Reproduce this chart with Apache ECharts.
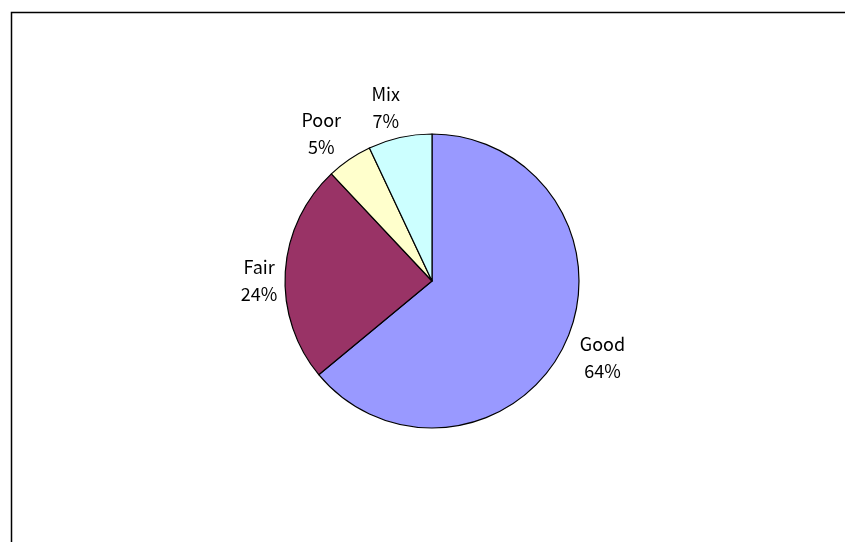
<!DOCTYPE html>
<html>
<head>
<meta charset="utf-8">
<script src="https://cdn.jsdelivr.net/npm/echarts@6/dist/echarts.min.js"></script>
<style>
  html, body { margin: 0; padding: 0; background: #fff; }
  #chart { width: 845px; height: 542px; }
</style>
</head>
<body>
<div id="chart"></div>
<script>
// Condition ratings, share of total (%)
const categories = ['Good', 'Fair', 'Poor', 'Mix'];
const shares = [64, 24, 5, 7];
const sliceColors = ['#9999FF', '#993366', '#FFFFCC', '#CCFFFF'];

const font = '"Noto Sans CJK JP", "Noto Sans", sans-serif';
const CX = 432, CY = 281, R = 147;
const LABEL_GAP = 7;                          // px between rim and label box
const LABEL_ANGLE_SHIFT = -2 * Math.PI / 180;  // labels sit slightly counter-clockwise
const LABEL_DROP = 4;                         // text sits a little low in its box

// mid-angle of every slice, measured clockwise from 12 o'clock
const total = shares.reduce((a, b) => a + b, 0);
const midAngles = [];
let acc = 0;
shares.forEach(v => {
  midAngles.push((acc + v / 2) / total * Math.PI * 2);
  acc += v;
});

const chart = echarts.init(document.getElementById('chart'), null, { renderer: 'canvas' });

chart.setOption({
  backgroundColor: '#ffffff',
  animation: false,
  graphic: [{
    type: 'rect',
    shape: { x: 11.5, y: 12.5, width: 900, height: 600 },
    style: { fill: 'none', stroke: '#000', lineWidth: 1.5 },
    silent: true
  }],
  series: [{
    type: 'pie',
    center: [CX, CY],
    radius: R,
    startAngle: 90,
    clockwise: true,
    silent: true,
    itemStyle: { borderColor: '#000', borderWidth: 1.2 },
    label: {
      show: true,
      position: 'outside',
      formatter: p => p.name + '\n' + Math.round(p.percent) + '%',
      fontFamily: font,
      fontSize: 18,
      lineHeight: 27,
      color: '#000',
      align: 'center'
    },
    labelLine: { show: false },
    // box just outside the rim, pushed out along the slice's mid-angle
    labelLayout: params => {
      const a = midAngles[params.dataIndex] + LABEL_ANGLE_SHIFT;
      const dx = Math.sin(a), dy = -Math.cos(a);
      const w = params.labelRect.width, h = params.labelRect.height;
      const dist = R + LABEL_GAP + Math.abs(dx) * w / 2 + Math.abs(dy) * h / 2;
      return {
        x: CX + dx * dist,
        y: CY + dy * dist + LABEL_DROP,
        align: 'center',
        verticalAlign: 'middle'
      };
    },
    data: categories.map((name, i) => ({
      name: name,
      value: shares[i],
      itemStyle: { color: sliceColors[i] }
    }))
  }]
});
</script>
</body>
</html>
